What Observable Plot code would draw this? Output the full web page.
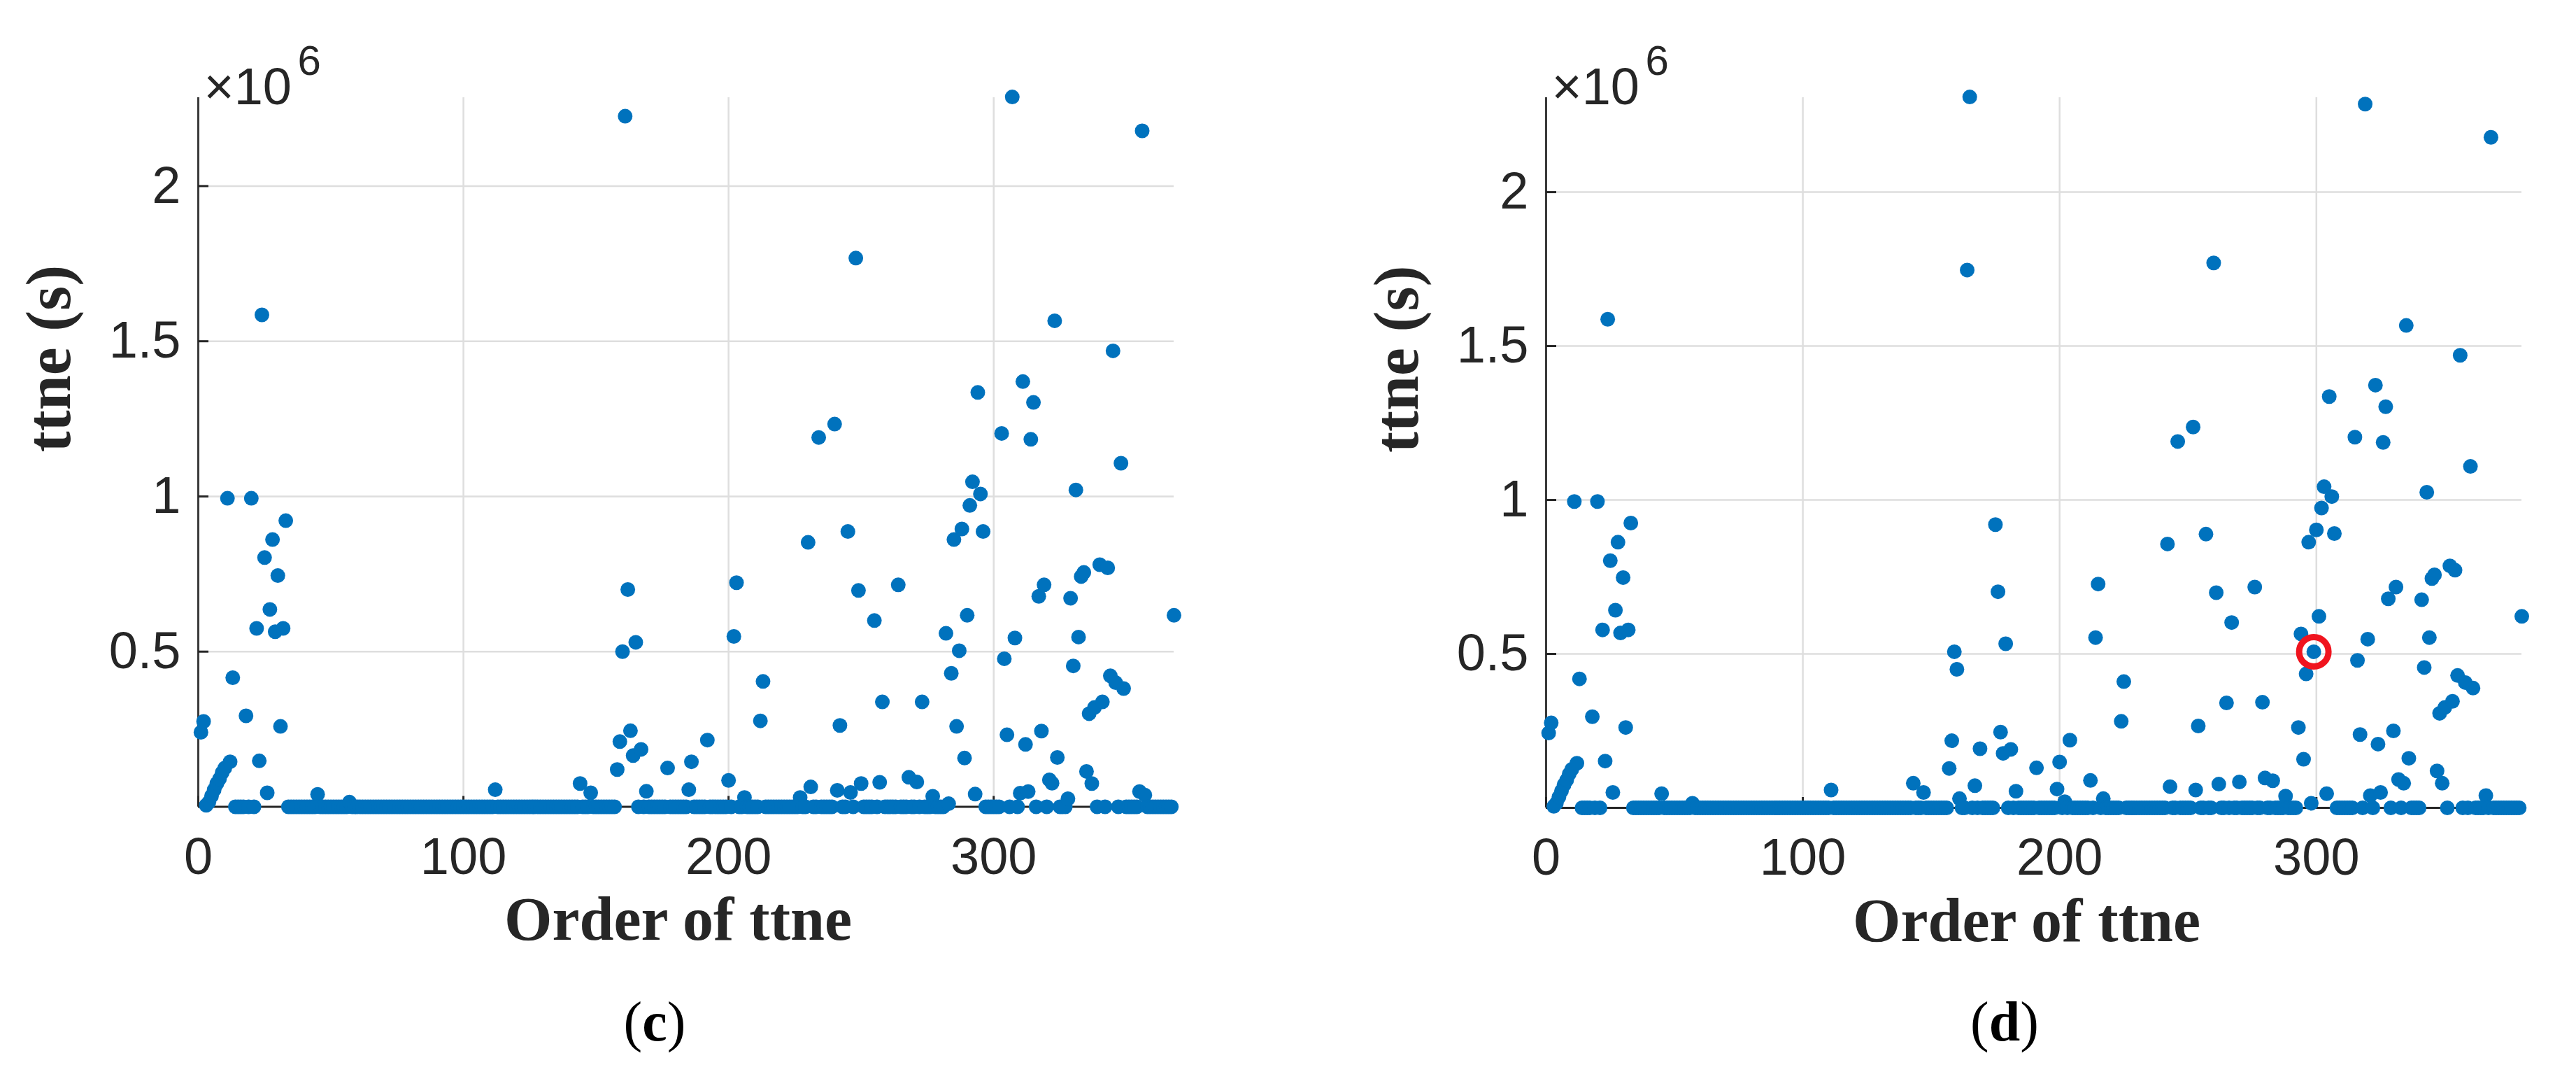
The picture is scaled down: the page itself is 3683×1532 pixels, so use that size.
<!DOCTYPE html>
<html>
<head>
<meta charset="utf-8">
<script src="https://cdn.jsdelivr.net/npm/d3@7"></script>
<script src="https://cdn.jsdelivr.net/npm/@observablehq/plot@0.6"></script>
<style>
  html, body { margin: 0; padding: 0; background: #fff; }
  #wrap { position: relative; width: 3683px; height: 1532px; overflow: hidden; background: #fff; }
  .panel { position: absolute; top: 0; }
  .panel svg { display: block; }
  .cap { position: absolute; top: 1420px; font-family: "Liberation Serif", "Times New Roman", serif;
         font-size: 80px; line-height: 1; color: #000; transform: translateX(-50%); white-space: nowrap; }
  .cap b { font-weight: bold; }
</style>
</head>
<body>
<div id="wrap">
  <div id="pc" class="panel" style="left:0px"></div>
  <div id="pd" class="panel" style="left:1900px"></div>
  <div class="cap" style="left:936px">(<b>c</b>)</div>
  <div class="cap" style="left:2866px">(<b>d</b>)</div>
</div>
<script>
// ---- Data (ttne in units of 10^6 s), one value per order index starting at 1 ----
// Panel (c): 368 values
const ttneC = [
  0.24,0.275,0.005,0.015,0.035,0.055,0.075,0.09,0.11,0.125,      // 1-10
  0.994,0.145,0.416,0,0,0,0,0.293,0,0.994,                       // 11-20
  0,0.575,0.148,1.585,0.803,0.045,0.636,0.861,0.564,0.745,       // 21-30
  0.259,0.575,0.922,0,0,0,0,0,0,0,                               // 31-40
  0,0,0,0,0.04,0,0,0,0,0,                                        // 41-50
  0,0,0,0,0,0,0.015,0,0,0,                                       // 51-60
  0,0,0,0,0,0,0,0,0,0,                                           // 61-70
  0,0,0,0,0,0,0,0,0,0,                                           // 71-80
  0,0,0,0,0,0,0,0,0,0,                                           // 81-90
  0,0,0,0,0,0,0,0,0,0,                                           // 91-100
  0,0,0,0,0,0,0,0,0,0,                                           // 101-110
  0,0.055,0,0,0,0,0,0,0,0,                                       // 111-120
  0,0,0,0,0,0,0,0,0,0,                                           // 121-130
  0,0,0,0,0,0,0,0,0,0,                                           // 131-140
  0,0,0,0.075,0,0,0,0.045,0,0,                                   // 141-150
  0,0,0,0,0,0,0,0.12,0.21,0.5,                                   // 151-160
  2.225,0.7,0.245,0.165,0.53,0,0.185,0,0.05,0,                   // 161-170
  0,0,0,0,0,0,0.125,0,0,0,                                       // 171-180
  0,0,0,0,0.055,0.145,0,0,0,0,                                   // 181-190
  0,0.215,0,0,0,0,0,0,0,0.085,                                   // 191-200
  0,0.549,0.722,0,0,0.03,0,0,0,0,                                // 201-210
  0,0.277,0.404,0,0,0,0,0,0,0,                                   // 211-220
  0,0,0,0,0,0,0.03,0,0,0.852,                                    // 221-230
  0.064,0,0,1.19,0,0,0,0,0,1.233,                                // 231-240
  0.053,0.262,0,0,0.887,0.046,0,1.768,0.697,0.075,               // 241-250
  0,0,0,0,0.6,0,0.079,0.338,0,0,                                 // 251-260
  0,0,0,0.715,0,0,0,0.095,0,0,                                   // 261-270
  0.08,0,0.338,0,0,0,0.034,0,0,0,                                // 271-280
  0,0.559,0.01,0.43,0.861,0.259,0.503,0.895,0.157,0.617,         // 281-290
  0.971,1.047,0.041,1.335,1.008,0.887,0,0,0,0,                   // 291-300
  0,0,1.203,0.477,0.232,0,2.287,0.544,0,0.044,                   // 301-310
  1.37,0.201,0.049,1.184,1.303,0,0.678,0.244,0.715,0,            // 311-320
  0.087,0.076,1.566,0.159,0,0,0,0.026,0.672,0.454,               // 321-330
  1.021,0.547,0.742,0.755,0.114,0.3,0.075,0.32,0,0.78,           // 331-340
  0.338,0,0.77,0.422,1.469,0.4,0,1.107,0.381,0,                  // 341-350
  0,0,0,0,0.049,2.178,0.038,0,0,0,                               // 351-360
  0,0,0,0,0,0,0,0.617                                            // 361-368
];

// Panel (d): 380 values
const ttneD = [
  0.243,0.276,0.005,0.015,0.035,0.055,0.075,0.09,0.11,0.125,     // 1-10
  0.995,0.145,0.419,0,0,0,0,0.296,0,0.995,                       // 11-20
  0,0.578,0.152,1.587,0.803,0.05,0.642,0.863,0.568,0.748,        // 21-30
  0.261,0.578,0.925,0,0,0,0,0,0,0,                               // 31-40
  0,0,0,0,0.046,0,0,0,0,0,                                       // 41-50
  0,0,0,0,0,0,0.015,0,0,0,                                       // 51-60
  0,0,0,0,0,0,0,0,0,0,                                           // 61-70
  0,0,0,0,0,0,0,0,0,0,                                           // 71-80
  0,0,0,0,0,0,0,0,0,0,                                           // 81-90
  0,0,0,0,0,0,0,0,0,0,                                           // 91-100
  0,0,0,0,0,0,0,0,0,0,                                           // 101-110
  0.058,0,0,0,0,0,0,0,0,0,                                       // 111-120
  0,0,0,0,0,0,0,0,0,0,                                           // 121-130
  0,0,0,0,0,0,0,0,0,0,                                           // 131-140
  0,0,0.08,0,0,0,0.05,0,0,0,                                     // 141-150
  0,0,0,0,0,0,0.128,0.218,0.507,0.45,                            // 151-160
  0.03,0,0,1.747,2.309,0,0.072,0,0.192,0,                        // 161-170
  0,0,0,0,0.92,0.702,0.246,0.177,0.533,0,                        // 171-180
  0.19,0,0.054,0,0,0,0,0,0,0,                                    // 181-190
  0.13,0,0,0,0,0,0,0,0.061,0.149,                                // 191-200
  0,0.02,0,0.22,0,0,0,0,0,0,                                     // 201-210
  0,0.089,0,0.553,0.727,0,0.03,0,0,0,                            // 211-220
  0,0,0,0.281,0.41,0,0,0,0,0,                                    // 221-230
  0,0,0,0,0,0,0,0,0,0,                                           // 231-240
  0,0.857,0.069,0,0,1.19,0,0,0,0,                                // 241-250
  0,1.237,0.058,0.266,0,0,0.889,0,0,1.77,                        // 251-260
  0.699,0.077,0,0,0.341,0,0.602,0,0,0.084,                       // 261-270
  0,0,0,0,0,0.717,0,0,0.343,0.097,                               // 271-280
  0,0,0.088,0,0,0,0,0.038,0,0,                                   // 281-290
  0,0,0.261,0.565,0.158,0.435,0.863,0.015,0.507,0.903,           // 291-300
  0.622,0.974,1.043,0.046,1.336,1.011,0.891,0,0,0,               // 301-310
  0,0,0,0,1.204,0.479,0.238,0,2.286,0.548,                       // 311-320
  0.04,0,1.373,0.207,0.05,1.187,1.303,0.679,0,0.25,              // 321-330
  0.717,0.092,0,0.08,1.567,0.161,0,0,0,0,                        // 331-340
  0.676,0.456,1.025,0.553,0.745,0.757,0.12,0.307,0.08,0.326,     // 341-350
  0,0.786,0.346,0.772,0.43,1.47,0,0.407,0,1.109,                 // 351-360
  0.389,0,0,0,0,0.04,0,2.178,0,0,                                // 361-370
  0,0,0,0,0,0,0,0,0,0.622                                        // 371-380
];

const highlightOrderD = [299];          // red-circled point in panel (d)
const xTicks = [0, 100, 200, 300];
const yTicks = [0.5, 1, 1.5, 2];
const xLabel = "Order of ttne";
const yLabel = "ttne (s)";

const BLUE = "#0072BD";
const AXIS = "#262626";
const GRID = "#dedede";
const SANS = "'Liberation Sans', Arial, Helvetica, sans-serif";
const SERIF = "'Liberation Serif', 'Times New Roman', serif";

function panel(values, o) {
  const data = values.map((v, i) => ({order: i + 1, ttne: v}));
  const marks = [
    Plot.gridX(xTicks, {stroke: GRID, strokeOpacity: 1, strokeWidth: 2.5}),
    Plot.gridY(yTicks, {stroke: GRID, strokeOpacity: 1, strokeWidth: 2.5}),
    Plot.ruleX([0], {stroke: "#3a3a3a", strokeWidth: 3}),
    Plot.ruleY([0], {stroke: AXIS, strokeWidth: 3}),
    Plot.axisX(xTicks, {label: null, tickSize: -15, tickPadding: 58, fontSize: 74,
      fontFamily: SANS, color: AXIS, strokeWidth: 3, tickFormat: d => `${d}`}),
    Plot.axisY(yTicks, {label: null, tickSize: -15, tickPadding: 40, fontSize: 74,
      fontFamily: SANS, color: AXIS, strokeWidth: 3, tickFormat: d => `${d}`}),
    Plot.dot(data, {x: "order", y: "ttne", r: 10.5, fill: BLUE, stroke: "none"}),
    Plot.text([yLabel], {frameAnchor: "left", rotate: -90, dx: -212, fontSize: 90,
      fontWeight: "bold", fontFamily: SERIF, fill: AXIS}),
    Plot.text([xLabel], {frameAnchor: "bottom", dx: o.xLabelDx, dy: 190, fontSize: 88,
      fontWeight: "bold", fontFamily: SERIF, fill: AXIS}),
    Plot.text(["\u00d710"], {frameAnchor: "top-left", textAnchor: "start", dx: 8, dy: -43,
      fontSize: 74, fontFamily: SANS, fill: AXIS}),
    Plot.text(["6"], {frameAnchor: "top-left", textAnchor: "start", dx: 142, dy: -75,
      fontSize: 60, fontFamily: SANS, fill: AXIS})
  ];
  if (o.highlight) {
    const hl = o.highlight.map(k => ({order: k, ttne: values[k - 1]}));
    marks.push(Plot.dot(hl, {x: "order", y: "ttne", r: 21, fill: "none", stroke: "#f0141e", strokeWidth: 9}));
  }
  return Plot.plot({
    width: o.width,
    height: 1400,
    marginLeft: o.marginLeft,
    marginRight: o.marginRight,
    marginTop: 139,
    marginBottom: o.marginBottom,
    x: {domain: [0, o.xMax], label: null},
    y: {domain: [0, o.yMax], label: null},
    style: {background: "#fff", fontFamily: SANS, color: AXIS, overflow: "visible"},
    marks
  });
}

document.getElementById("pc").append(panel(ttneC, {
  width: 1800, marginLeft: 283, marginRight: 122, marginBottom: 247.5,
  xMax: 368, yMax: 2.285, xLabelDx: -11.5
}));
document.getElementById("pd").append(panel(ttneD, {
  width: 1783, marginLeft: 310, marginRight: 78, marginBottom: 246,
  xMax: 380, yMax: 2.307, xLabelDx: -10.5, highlight: highlightOrderD
}));
</script>
</body>
</html>
